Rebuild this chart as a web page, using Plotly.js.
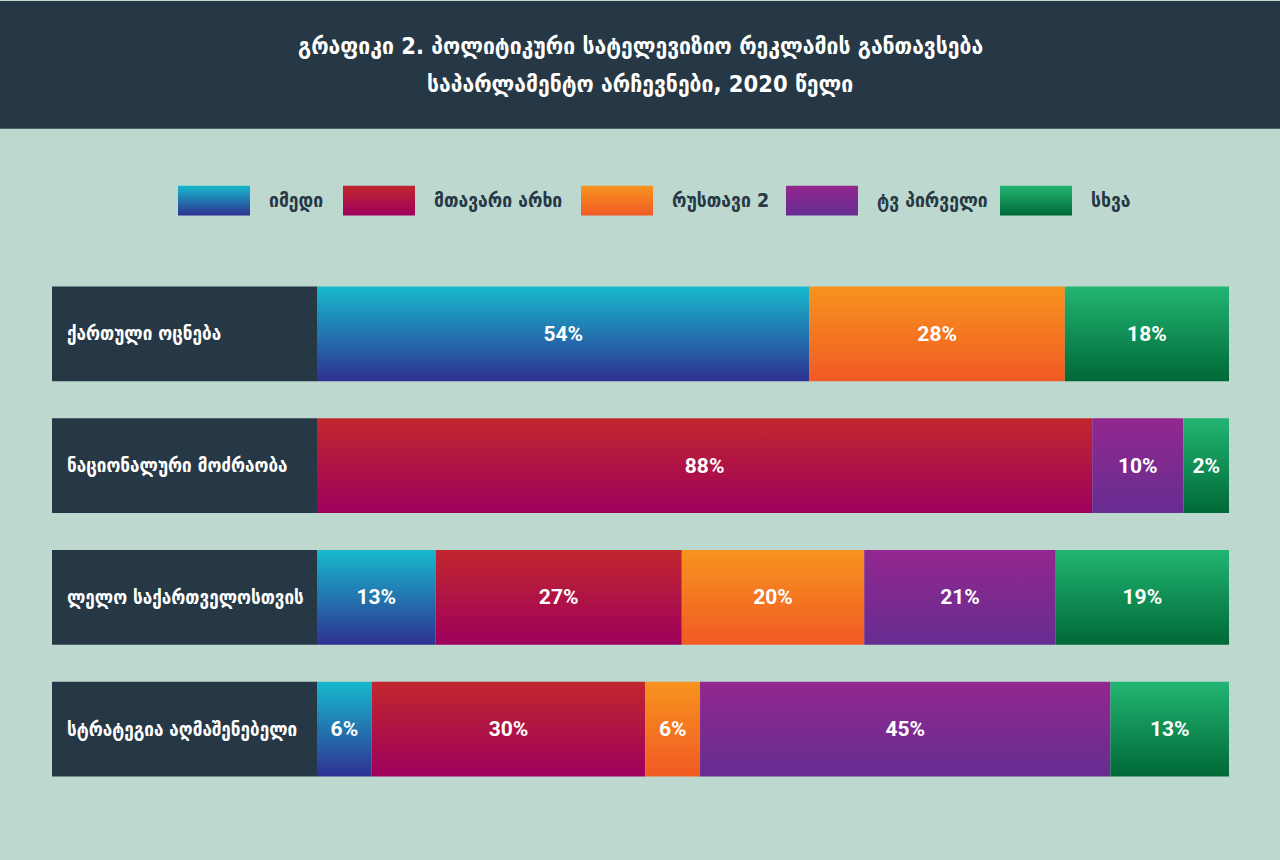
<!DOCTYPE html>
<html>
<head>
<meta charset="utf-8">
<script src="https://cdn.plot.ly/plotly-3.0.1.min.js"></script>
<style>
  html, body { margin: 0; padding: 0; background: #bcd8cf; }
  #chart { width: 1280px; height: 860px; }
</style>
</head>
<body>
<div id="chart"></div>
<script>
// data
const parties = ["ქართული ოცნება", "ნაციონალური მოძრაობა", "ლელო საქართველოსთვის", "სტრატეგია აღმაშენებელი"];
const channels = ["იმედი", "მთავარი არხი", "რუსთავი 2", "ტვ პირველი", "სხვა"];
// bar lengths as drawn (share of the row, %)
const imediShare = [54, 0, 13, 6];
const mtavariShare = [0, 85, 27, 30];
const rustaviShare = [28, 0, 20, 6];
const pirveliShare = [0, 10, 21, 45];
const otherShare = [18, 5, 19, 13];
// printed labels
const imediLabel = ["54%", "", "13%", "6%"];
const mtavariLabel = ["", "88%", "27%", "30%"];
const rustaviLabel = ["28%", "", "20%", "6%"];
const pirveliLabel = ["", "10%", "21%", "45%"];
const otherLabel = ["18%", "2%", "19%", "13%"];
const titleLines = ["გრაფიკი 2. პოლიტიკური სატელევიზიო რეკლამის განთავსება", "საპარლამენტო არჩევნები, 2020 წელი"];

// styles
const gradients = [
  ["#17b9cd", "#2e3192"],
  ["#c1272d", "#9e005d"],
  ["#f7931e", "#f15a24"],
  ["#93278f", "#662d91"],
  ["#22b573", "#006837"]
];
const dark = "#263845";
const W = 1280, H = 860;
const M = { l: 52, r: 51, t: 267.5, b: 64.5 };
const plotW = W - M.l - M.r, plotH = H - M.t - M.b;
const labelW = 265 / 912 * 100;        // width of the dark name box, in % units
const legendLeft = [178, 343, 581, 786, 1000];
const geoFont = "DejaVu Sans Condensed, DejaVu Sans, sans-serif";

const px = (x) => (x - M.l) / plotW;
const py = (y) => (H - M.b - y) / plotH;

const shares = [imediShare, mtavariShare, rustaviShare, pirveliShare, otherShare];
const labels = [imediLabel, mtavariLabel, rustaviLabel, pirveliLabel, otherLabel];

const traces = [{
  type: "bar",
  orientation: "h",
  y: parties,
  x: parties.map(() => -labelW),
  marker: { color: dark, line: { width: 0 } },
  hoverinfo: "skip",
  showlegend: false
}];
channels.forEach((name, i) => {
  traces.push({
    type: "bar",
    orientation: "h",
    name: name,
    y: parties,
    x: shares[i],
    text: labels[i],
    textposition: "inside",
    insidetextanchor: "middle",
    textangle: 0,
    constraintext: "none",
    textfont: { family: "Roboto, sans-serif", size: 21, color: "#ffffff", weight: "bold" },
    marker: { color: gradients[i][0], line: { width: 0 } },
    hoverinfo: "skip",
    showlegend: false
  });
});

const shapes = [{
  type: "rect", xref: "paper", yref: "paper", layer: "below",
  x0: px(0), x1: px(W), y0: py(0), y1: py(128),
  fillcolor: dark, line: { width: 0 }
}];
const annotations = [];
channels.forEach((name, i) => {
  shapes.push({
    type: "rect", xref: "paper", yref: "paper", layer: "above",
    x0: px(legendLeft[i]), x1: px(legendLeft[i] + 72), y0: py(185), y1: py(215),
    fillcolor: gradients[i][0], line: { width: 0 }
  });
  annotations.push({
    xref: "paper", yref: "paper", x: px(legendLeft[i] + 89), y: py(200),
    xanchor: "left", yanchor: "middle", showarrow: false, text: name,
    font: { family: geoFont, size: 19.5, color: dark, weight: "bold" }
  });
});
parties.forEach((name) => {
  annotations.push({
    xref: "x", yref: "y", x: -labelW, y: name, xshift: 13,
    xanchor: "left", yanchor: "middle", showarrow: false, text: name,
    font: { family: geoFont, size: 19, color: "#ffffff", weight: "bold" }
  });
});
titleLines.forEach((line, i) => {
  annotations.push({
    xref: "paper", yref: "paper", x: px(640), y: py(45 + i * 38),
    xanchor: "center", yanchor: "middle", showarrow: false, text: line,
    font: { family: geoFont, size: 23.5, color: "#ffffff", weight: "bold" }
  });
});

const layout = {
  width: W,
  height: H,
  margin: M,
  paper_bgcolor: "#bcd8cf",
  plot_bgcolor: "rgba(0,0,0,0)",
  barmode: "relative",
  bargap: 0.28,
  showlegend: false,
  xaxis: { range: [-labelW, 100], visible: false, fixedrange: true },
  yaxis: { type: "category", autorange: "reversed", visible: false, fixedrange: true },
  shapes: shapes,
  annotations: annotations
};

const gd = document.getElementById("chart");
Plotly.newPlot(gd, traces, layout, { displayModeBar: false, staticPlot: true }).then(() => {
  // vertical gradients on bars and legend swatches
  const ns = "http://www.w3.org/2000/svg";
  const svg = gd.querySelector(".main-svg");
  const defs = document.createElementNS(ns, "defs");
  gradients.forEach((g, i) => {
    const lg = document.createElementNS(ns, "linearGradient");
    lg.setAttribute("id", "grad-" + i);
    lg.setAttribute("x1", "0"); lg.setAttribute("y1", "0");
    lg.setAttribute("x2", "0"); lg.setAttribute("y2", "1");
    g.forEach((c, k) => {
      const stop = document.createElementNS(ns, "stop");
      stop.setAttribute("offset", k === 0 ? "0" : "1");
      stop.setAttribute("stop-color", c);
      lg.appendChild(stop);
    });
    defs.appendChild(lg);
  });
  svg.insertBefore(defs, svg.firstChild);

  const barTraces = gd.querySelectorAll(".barlayer .trace.bars");
  barTraces.forEach((t, ti) => {
    if (ti === 0) return;
    t.querySelectorAll(".point path").forEach((p) => { p.style.fill = "url(#grad-" + (ti - 1) + ")"; });
  });
  channels.forEach((_, i) => {
    const p = gd.querySelector('.shapelayer path[data-index="' + (i + 1) + '"]');
    if (p) p.style.fill = "url(#grad-" + i + ")";
  });
});
</script>
</body>
</html>
